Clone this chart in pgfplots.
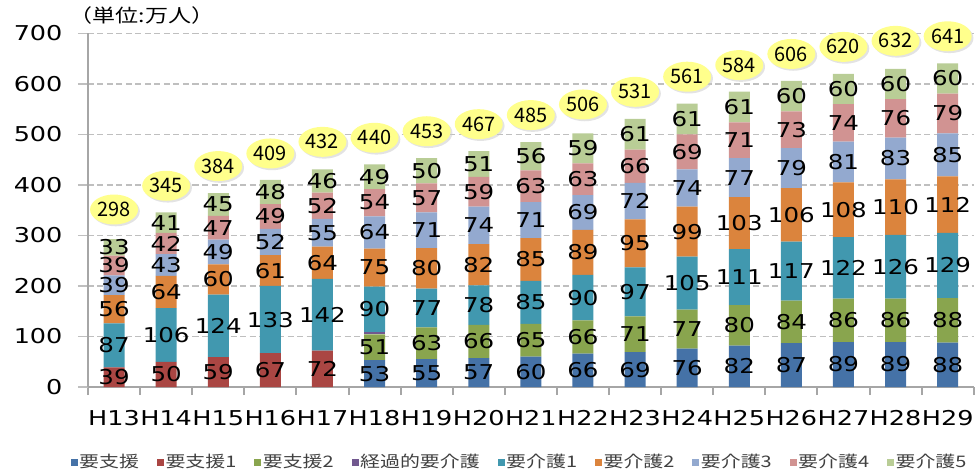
\documentclass[border=0pt]{standalone}
\usepackage{pgfplots}
\usepackage{pgfplotstable}
\pgfplotsset{compat=1.18}
\usepackage{fontspec}
\setmainfont{DejaVu Sans}
\newfontfamily\wide{DejaVu Sans}[FakeStretch=1.2]
\newfontfamily\tickfont{DejaVu Sans}[FakeStretch=1.25]
\newfontfamily\jp{Noto Sans CJK JP}
\newfontfamily\jpwide{Noto Sans CJK JP}[FakeStretch=1.25]
\usetikzlibrary{shapes.geometric,shadows}

\definecolor{cSh}{HTML}{4572A7}
\definecolor{cS1}{HTML}{AA4643}
\definecolor{cS2}{HTML}{89A54E}
\definecolor{cKk}{HTML}{71588F}
\definecolor{cK1}{HTML}{4198AF}
\definecolor{cK2}{HTML}{DB843D}
\definecolor{cK3}{HTML}{93A9CF}
\definecolor{cK4}{HTML}{D19392}
\definecolor{cK5}{HTML}{B9CD96}
\definecolor{axisgray}{HTML}{A6A6A6}
\definecolor{gridgray}{HTML}{BFBFBF}
\definecolor{ellyellow}{HTML}{FFFF8C}

% H13..H29, 単位: 万人
\pgfplotstableread{
x  sh  s1  s2  kk  k1   k2   k3  k4  k5  tot
0  0   39  0   0   87   56   39  39  33  298
1  0   50  0   0   106  64   43  42  41  345
2  0   59  0   0   124  60   49  47  45  384
3  0   67  0   0   133  61   52  49  48  409
4  0   72  0   0   142  64   55  52  46  432
5  53  0   51  5   90   75   64  54  49  440
6  55  0   63  0   77   80   71  57  50  453
7  57  0   66  0   78   82   74  59  51  467
8  60  0   65  0   85   85   71  63  56  485
9  66  0   66  0   90   89   69  63  59  506
10 69  0   71  0   97   95   72  66  61  531
11 76  0   77  0   105  99   74  69  61  561
12 82  0   80  0   111  103  77  71  61  584
13 87  0   84  0   117  106  79  73  60  606
14 89  0   86  0   122  108  81  74  60  620
15 89  0   86  0   126  110  83  76  60  632
16 88  0   88  0   129  112  85  79  60  641
}\kaigo

\begin{document}
\begin{tikzpicture}
\path[use as bounding box] (-88bp,-83bp) rectangle (891bp,387bp);
\begin{axis}[
  at={(0,0)}, anchor=south west,
  x=52.1bp, y=0.505bp,
  xmin=-0.5, xmax=16.5, ymin=0, ymax=700,
  ybar stacked, bar width=21bp,
  axis lines*=left,
  axis line style={draw=axisgray, line width=2.2bp},
  tick align=outside,
  xtick={0,...,16},
  xticklabels={H13,H14,H15,H16,H17,H18,H19,H20,H21,H22,H23,H24,H25,H26,H27,H28,H29},
  major x tick style={draw=none},
  minor xtick={-0.5,0.5,...,16.5},
  minor x tick style={draw=axisgray, line width=2bp},
  minor tick length=8bp,
  ytick={0,100,...,700},
  major y tick style={draw=gridgray, line width=1.8bp},
  major tick length=10bp,
  ymajorgrids,
  grid style={draw=gridgray, line width=1.8bp, dash pattern=on 6bp off 3.5bp},
  ticklabel style={font=\tickfont\fontsize{20.5}{20.5}\selectfont},
  yticklabel style={xshift=-12bp},
  xticklabel style={yshift=-10bp},
  /pgf/number format/assume math mode=true,
  visualization depends on=rawy \as \rawy,
  nodes near coords={\ifdim\rawy pt>9pt \pgfmathprintnumber[fixed,precision=0]{\rawy}\fi},
  every node near coord/.append style={anchor=center, text=black,
    font=\wide\fontsize{20.5}{20.5}\selectfont},
  legend columns=9,
  legend cell align=left,
  legend image code/.code={\fill[#1] (0bp,-4bp) rectangle (7bp,3bp);},
  legend style={at={(0.487,-0.212)}, anchor=center, draw=none, fill=none,
    font=\jpwide\fontsize{16}{16}\selectfont, text=black!75,
    nodes={inner sep=1.5bp},
    /tikz/every even column/.append style={column sep=16.5bp}},
]
\addplot[fill=cSh, draw=none] table[x=x, y=sh] {\kaigo};
\addlegendentry{要支援}
\addplot[fill=cS1, draw=none] table[x=x, y=s1] {\kaigo};
\addlegendentry{要支援1}
\addplot[fill=cS2, draw=none] table[x=x, y=s2] {\kaigo};
\addlegendentry{要支援2}
\addplot[fill=cKk, draw=none] table[x=x, y=kk] {\kaigo};
\addlegendentry{経過的要介護}
\addplot[fill=cK1, draw=none] table[x=x, y=k1] {\kaigo};
\addlegendentry{要介護1}
\addplot[fill=cK2, draw=none] table[x=x, y=k2] {\kaigo};
\addlegendentry{要介護2}
\addplot[fill=cK3, draw=none] table[x=x, y=k3] {\kaigo};
\addlegendentry{要介護3}
\addplot[fill=cK4, draw=none] table[x=x, y=k4] {\kaigo};
\addlegendentry{要介護4}
\addplot[fill=cK5, draw=none] table[x=x, y=k5] {\kaigo};
\addlegendentry{要介護5}
\end{axis}

\begin{axis}[
  at={(0,0)}, anchor=south west,
  x=52.1bp, y=0.505bp,
  xmin=-0.5, xmax=16.5, ymin=0, ymax=700,
  hide axis, clip=false,
]
\addplot[draw=none, mark=none, nodes near coords, point meta=explicit symbolic,
  every node near coord/.append style={ellipse, fill=ellyellow, text=black,
    minimum width=48bp, minimum height=30bp, inner sep=0pt, anchor=center,
    yshift=27bp, font=\jp\fontsize{20}{20}\selectfont,
    drop shadow={shadow xshift=1.8bp, shadow yshift=-1.8bp, fill=black!22}}]
  table[x=x, y=tot, meta=tot] {\kaigo};
\end{axis}

\node[anchor=west, font=\jpwide\fontsize{18.5}{18.5}\selectfont] at (-22bp,371bp) {（単位:万人）};
\end{tikzpicture}
\end{document}
